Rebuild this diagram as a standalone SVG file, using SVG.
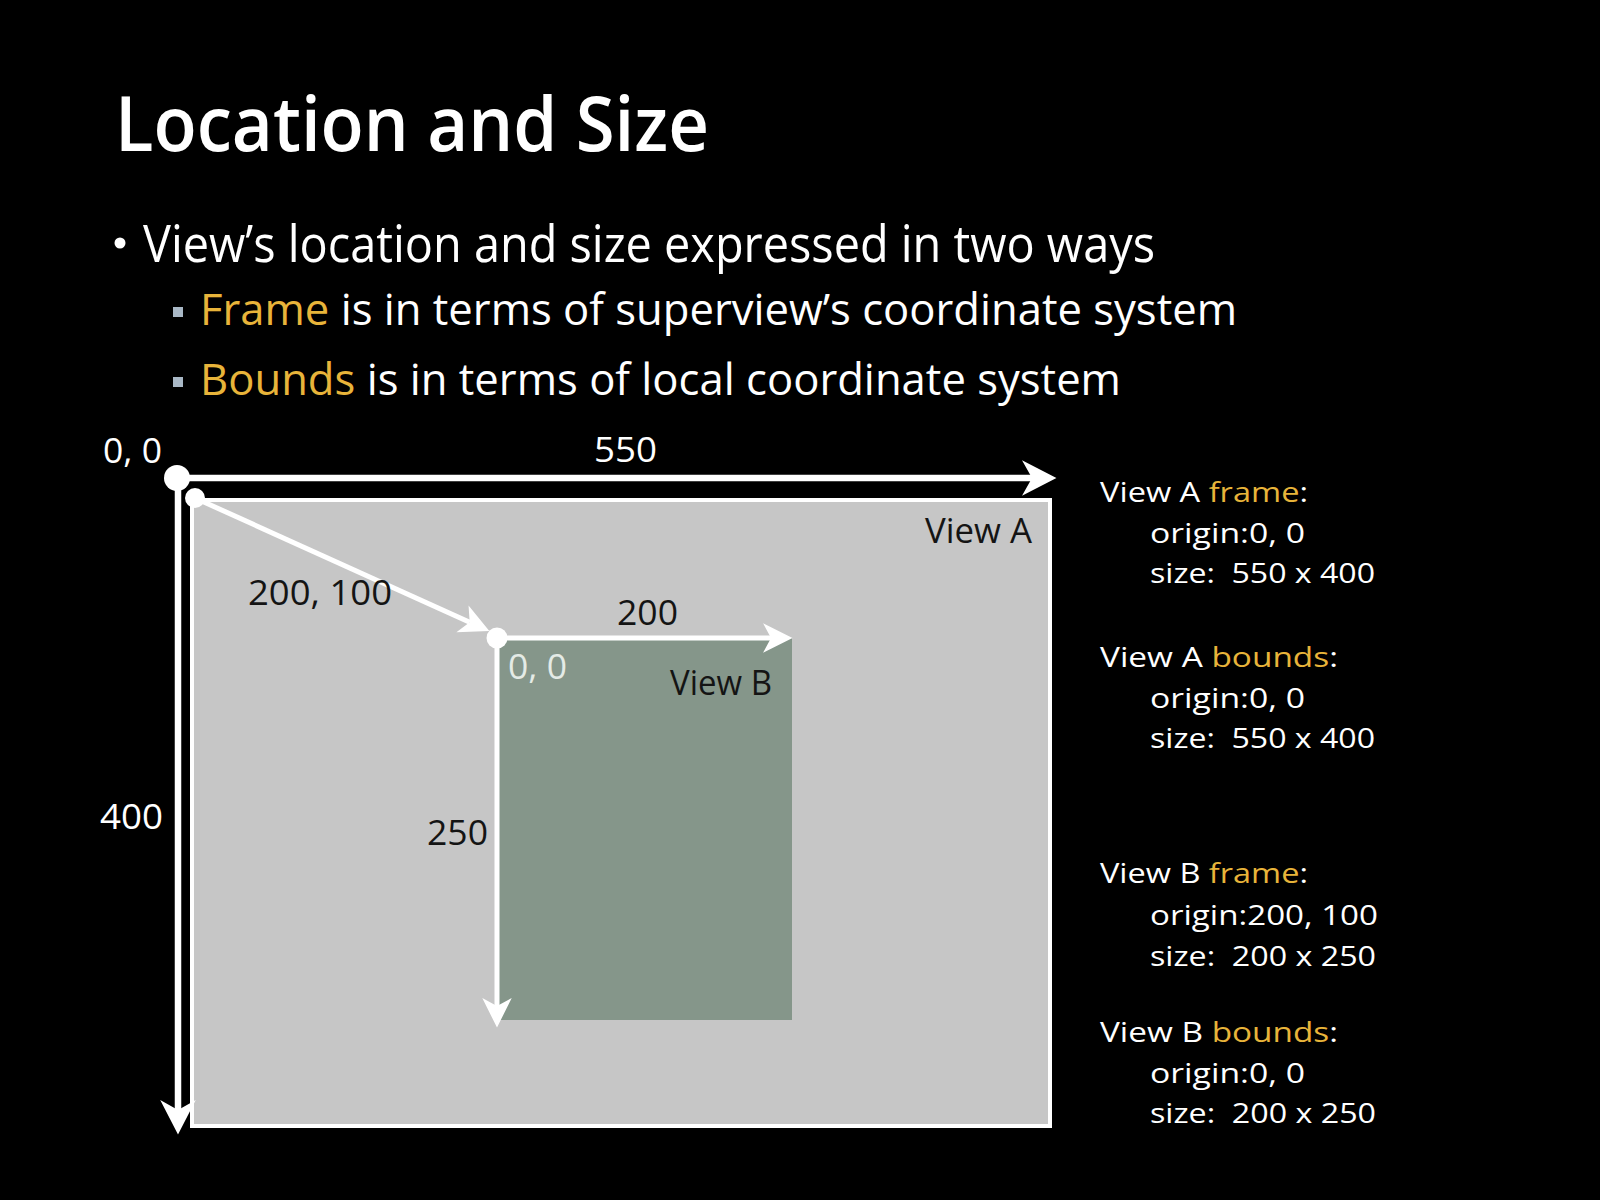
<svg xmlns="http://www.w3.org/2000/svg" width="1600" height="1200" viewBox="0 0 1600 1200">
  <style>
    text { font-family: "Open Sans", "Noto Sans", "DejaVu Sans", sans-serif; }
    .w { fill: #ffffff; }
    .d { fill: #141414; }
    .g { fill: #e8b43a; }
    .lbl { font-size: 35px; }
    .side { font-size: 28px; fill: #ffffff; white-space: pre; }
    .axis { stroke: #ffffff; stroke-width: 6.5; fill: none; }
    .sub { stroke: #ffffff; stroke-width: 5; fill: none; }
  </style>
  <defs>
    <marker id="bigHead" markerUnits="userSpaceOnUse" markerWidth="40" markerHeight="40" viewBox="-2 -18 36 36" refX="9" refY="0" orient="auto">
      <path d="M0,-16 L31,0 L0,16 L9,0 Z" fill="#ffffff"/>
    </marker>
    <marker id="smallHead" markerUnits="userSpaceOnUse" markerWidth="34" markerHeight="34" viewBox="-2 -15 30 30" refX="7" refY="0" orient="auto">
      <path d="M0,-13 L26,0 L0,13 L7,0 Z" fill="#ffffff"/>
    </marker>
  </defs>

  <rect x="0" y="0" width="1600" height="1200" fill="#000000"/>

  <g id="title">
    <text x="115" y="151" font-size="76" font-weight="600" class="w" textLength="594" lengthAdjust="spacingAndGlyphs">Location and Size</text>
  </g>

  <g id="bullets">
    <circle cx="120" cy="243" r="5.5" fill="#ffffff"/>
    <text x="143" y="262" font-size="52" class="w" textLength="1012" lengthAdjust="spacingAndGlyphs">View’s location and size expressed in two ways</text>
    <rect x="173" y="307" width="10" height="10" fill="#a9b8c6"/>
    <text x="200" y="325" font-size="43" class="w" textLength="1037" lengthAdjust="spacingAndGlyphs"><tspan class="g">Frame</tspan> is in terms of superview’s coordinate system</text>
    <rect x="173" y="377" width="10" height="10" fill="#a9b8c6"/>
    <text x="200" y="395" font-size="43" class="w" textLength="921" lengthAdjust="spacingAndGlyphs"><tspan class="g">Bounds</tspan> is in terms of local coordinate system</text>
  </g>

  <g id="viewA">
    <rect x="192" y="500" width="858" height="626" fill="#c6c6c6" stroke="#ffffff" stroke-width="4"/>
    <text x="925" y="543" class="lbl d" textLength="107" lengthAdjust="spacingAndGlyphs">View A</text>
  </g>

  <g id="viewB">
    <rect x="498" y="638" width="294" height="382" fill="#85968a"/>
    <text x="670" y="695" class="lbl d" textLength="102" lengthAdjust="spacingAndGlyphs">View B</text>
    <text x="508" y="679" class="lbl" fill="#e4ebe6" textLength="59" lengthAdjust="spacingAndGlyphs">0, 0</text>
  </g>

  <g id="connectors">
    <line class="axis" x1="177" y1="478" x2="1032" y2="478" marker-end="url(#bigHead)"/>
    <line class="axis" x1="178" y1="478" x2="178" y2="1110" marker-end="url(#bigHead)"/>
    <line class="sub" x1="195" y1="498" x2="469.7" y2="622.2" marker-end="url(#smallHead)"/>
    <line class="sub" x1="497" y1="638" x2="771" y2="638" marker-end="url(#smallHead)"/>
    <line class="sub" x1="497" y1="638" x2="497" y2="1006" marker-end="url(#smallHead)"/>
    <circle cx="177" cy="478" r="13" fill="#ffffff"/>
    <circle cx="195" cy="498" r="10" fill="#ffffff"/>
    <circle cx="497" cy="638" r="10.5" fill="#ffffff"/>
  </g>

  <g id="labels">
    <text x="103" y="463" class="lbl w" textLength="59" lengthAdjust="spacingAndGlyphs">0, 0</text>
    <text x="594" y="462" class="lbl w" textLength="63" lengthAdjust="spacingAndGlyphs">550</text>
    <text x="100" y="829" class="lbl w" textLength="63" lengthAdjust="spacingAndGlyphs">400</text>
    <text x="248" y="605" class="lbl d" textLength="144" lengthAdjust="spacingAndGlyphs">200, 100</text>
    <text x="617" y="625" class="lbl d" textLength="61" lengthAdjust="spacingAndGlyphs">200</text>
    <text x="427" y="845" class="lbl d" textLength="61" lengthAdjust="spacingAndGlyphs">250</text>
  </g>

  <g id="info">
    <text x="1100" y="502" class="side" textLength="208" lengthAdjust="spacingAndGlyphs">View A <tspan class="g">frame</tspan>:</text>
    <text x="1150" y="543" class="side" textLength="155" lengthAdjust="spacingAndGlyphs">origin:0, 0</text>
    <text x="1150" y="583" class="side" textLength="225" lengthAdjust="spacingAndGlyphs">size:  550 x 400</text>
    <text x="1100" y="667" class="side" textLength="238" lengthAdjust="spacingAndGlyphs">View A <tspan class="g">bounds</tspan>:</text>
    <text x="1150" y="708" class="side" textLength="155" lengthAdjust="spacingAndGlyphs">origin:0, 0</text>
    <text x="1150" y="748" class="side" textLength="225" lengthAdjust="spacingAndGlyphs">size:  550 x 400</text>
    <text x="1100" y="883" class="side" textLength="208" lengthAdjust="spacingAndGlyphs">View B <tspan class="g">frame</tspan>:</text>
    <text x="1150" y="925" class="side" textLength="228" lengthAdjust="spacingAndGlyphs">origin:200, 100</text>
    <text x="1150" y="966" class="side" textLength="226" lengthAdjust="spacingAndGlyphs">size:  200 x 250</text>
    <text x="1100" y="1042" class="side" textLength="238" lengthAdjust="spacingAndGlyphs">View B <tspan class="g">bounds</tspan>:</text>
    <text x="1150" y="1083" class="side" textLength="155" lengthAdjust="spacingAndGlyphs">origin:0, 0</text>
    <text x="1150" y="1123" class="side" textLength="226" lengthAdjust="spacingAndGlyphs">size:  200 x 250</text>
  </g>
</svg>
